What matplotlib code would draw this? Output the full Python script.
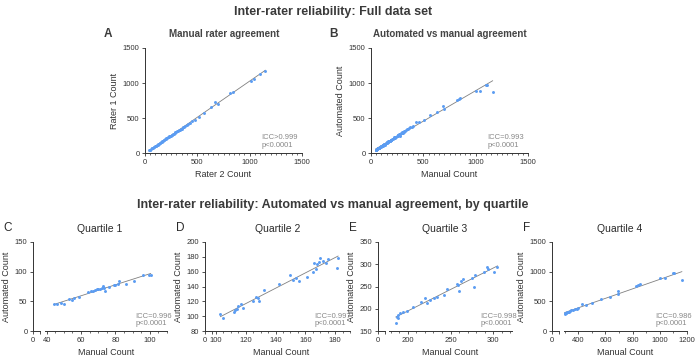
import numpy as np
import matplotlib.pyplot as plt
from matplotlib.ticker import MultipleLocator

plt.rcParams['font.family'] = ['Liberation Sans', 'DejaVu Sans']

# panel A: rater 2 (x) vs rater 1 (y)
rater2 = [38, 45, 52, 58, 63, 70, 76, 82, 88, 95, 101, 108, 115, 121, 128, 134, 140, 147, 153, 160,
          166, 172, 179, 186, 192, 199, 205, 212, 219, 226, 233, 240, 247, 254, 261, 268, 275, 283, 291, 298,
          306, 315, 324, 333, 342, 352, 362, 373, 385, 398, 412, 430, 452, 478, 515, 565, 632, 693, 670, 815,
          837, 1012, 1038, 1095, 1150]
rater1 = [40, 46, 50, 59, 65, 69, 78, 80, 90, 94, 103, 106, 117, 120, 130, 133, 142, 146, 155, 158,
          168, 171, 181, 184, 194, 197, 208, 210, 222, 224, 236, 238, 250, 252, 264, 266, 278, 281, 294, 296,
          309, 313, 327, 331, 345, 350, 365, 371, 388, 396, 416, 428, 456, 475, 520, 571, 657, 705, 724, 857,
          867, 1033, 1062, 1133, 1176]

# quartiles: manual (x) vs automated (y)
q1_manual = [44, 46, 48.5, 50, 53, 55, 56, 59, 64, 66, 67, 68, 69, 70, 71, 72, 73, 73.5, 74, 76,
             79, 80, 81.5, 82, 86, 91, 96, 99.5, 100.5]
q1_auto = [46, 45, 47, 45, 54, 52, 55, 58, 65, 67, 68, 69, 70, 70, 70, 72, 76, 73, 67, 74,
           77, 78, 79, 85, 80, 84, 94, 95, 95]
q2_manual = [103, 105, 112, 113, 114, 114.5, 117, 118, 125, 127, 128, 129, 132, 142, 150, 152, 154, 156,
             161, 165, 166, 167, 168, 169, 170, 172, 174, 175, 181, 182]
q2_auto = [103, 98, 106, 108, 110, 114, 116, 111, 121, 126, 124, 120, 135, 144, 155, 149, 151, 147,
           153, 160, 172, 164, 170, 173, 178, 175, 172, 177, 165, 178]
q3_manual = [186, 187, 188, 189, 191, 194, 199, 206, 216, 220, 222, 226, 231, 234, 242, 246, 258, 259,
             260, 262, 265, 275, 277, 279, 289, 293, 294, 301, 305]
q3_auto = [169, 182, 185, 180, 190, 192, 194, 204, 215, 224, 213, 220, 224, 226, 230, 245, 256, 253,
           239, 262, 266, 270, 250, 275, 283, 294, 290, 282, 294]
q4_manual = [300, 304, 308, 312, 318, 325, 332, 340, 350, 362, 375, 388, 400, 428, 454, 502, 565, 635,
             692, 694, 825, 840, 851, 1003, 1041, 1100, 1108, 1162]
q4_auto = [292, 296, 303, 306, 312, 320, 326, 336, 348, 357, 370, 378, 384, 448, 438, 467, 545, 581,
           676, 629, 762, 775, 786, 890, 886, 970, 978, 867]

DOT = '#5b9cf2'
LINE = '#808080'
DARK = '#333333'

W, H = 700, 360
fig = plt.figure(figsize=(7, 3.6), dpi=100)


def box(x0, x1, ytop, ybot):
    return [x0 / W, 1 - ybot / H, (x1 - x0) / W, (ybot - ytop) / H]


def style(ax):
    for s in ['top', 'right']:
        ax.spines[s].set_visible(False)
    for s in ['left', 'bottom']:
        ax.spines[s].set_linewidth(0.7)
        ax.spines[s].set_color(DARK)
    ax.tick_params(which='major', length=2.5, width=0.6, labelsize=5.5, pad=1.5, colors=DARK)
    ax.tick_params(which='minor', length=1.5, width=0.5, colors=DARK)


def draw_fit(ax, x, y, icc):
    ax.scatter(x, y, s=4.5, color=DOT, lw=0, zorder=3)
    k, b = np.polyfit(x, y, 1)
    xs = np.array([min(x), max(x)])
    ax.plot(xs, k * xs + b, color=LINE, lw=0.6, zorder=2)
    ax.text(0.74, 0.04, icc + '\np<0.0001', transform=ax.transAxes, fontsize=5.5,
            color='#888888', va='bottom', ha='left', linespacing=1.1)


def label(x, y, s, size, color='#2a2a2a', **kw):
    fig.text(x / W, 1 - y / H, s, fontsize=size, color=color, ha='center', va='center', **kw)


# top row
label(333, 12, 'Inter-rater reliability: Full data set', 9, color='#3a3a3a', fontweight='bold')
tops = [
    (145, 'A', 'Manual rater agreement', rater2, rater1, 'Rater 2 Count', 'Rater 1 Count', 'ICC>0.999'),
    (371, 'B', 'Automated vs manual agreement', q1_manual + q2_manual + q3_manual + q4_manual,
     q1_auto + q2_auto + q3_auto + q4_auto, 'Manual Count', 'Automated Count', 'ICC=0.993'),
]
for x0, letter, title, x, y, xl, yl, icc in tops:
    ax = fig.add_axes(box(x0, x0 + 157, 48, 153))
    draw_fit(ax, x, y, icc)
    ax.set_xlim(0, 1500)
    ax.set_ylim(0, 1500)
    ax.set_xticks([0, 500, 1000, 1500])
    ax.set_yticks([0, 500, 1000, 1500])
    ax.xaxis.set_minor_locator(MultipleLocator(50))
    style(ax)
    ax.set_xlabel(xl, fontsize=6.5, color=DARK, labelpad=3)
    ax.set_ylabel(yl, fontsize=6.5, color=DARK, labelpad=3)
    label(x0 - 37, 34, letter, 8.5, color='#3a3a3a', fontweight='bold')
    label(x0 + 79, 34, title, 7, color='#444444', fontweight='bold')

# bottom row
label(333, 205, 'Inter-rater reliability: Automated vs manual agreement, by quartile', 9,
      color='#3a3a3a', fontweight='bold')
quartiles = [
    (33, 45, 167, 'C', 'Quartile 1', q1_manual, q1_auto, (39, 110), 20, 5, (0, 150), 50, 'ICC=0.996'),
    (205, 213, 350, 'D', 'Quartile 2', q2_manual, q2_auto, (98, 190), 20, 5, (80, 200), 20, 'ICC=0.997'),
    (378, 389, 512, 'E', 'Quartile 3', q3_manual, q3_auto, (178, 322), 50, 10, (150, 350), 50, 'ICC=0.998'),
    (552, 564, 687, 'F', 'Quartile 4', q4_manual, q4_auto, (295, 1200), 200, 100, (0, 1500), 500, 'ICC=0.986'),
]
for yx, mx0, mx1, letter, title, x, y, xlim, maj, mnr, ylim, ymaj, icc in quartiles:
    # short segment holding the zero and the y axis
    ax0 = fig.add_axes(box(yx, yx + 6.5, 242, 331))
    ax0.set_xlim(0, 1)
    ax0.set_ylim(*ylim)
    ax0.set_xticks([0, 1])
    ax0.set_xticklabels(['0', ''])
    ax0.yaxis.set_major_locator(MultipleLocator(ymaj))
    style(ax0)
    ax0.set_ylabel('Automated Count', fontsize=6.5, color=DARK, labelpad=3)

    ax = fig.add_axes(box(mx0, mx1, 242, 331))
    draw_fit(ax, x, y, icc)
    ax.set_xlim(*xlim)
    ax.set_ylim(*ylim)
    ax.xaxis.set_major_locator(MultipleLocator(maj))
    ax.xaxis.set_minor_locator(MultipleLocator(mnr))
    style(ax)
    ax.spines['left'].set_visible(False)
    ax.tick_params(axis='y', left=False, labelleft=False)
    ax.set_xlabel('Manual Count', fontsize=6.5, color=DARK, labelpad=3)
    ax.patch.set_alpha(0)
    label(yx - 25, 228, letter, 8.5)
    label((yx + mx1) / 2, 229, title, 7.5)

fig.savefig('out.png', dpi=100)
